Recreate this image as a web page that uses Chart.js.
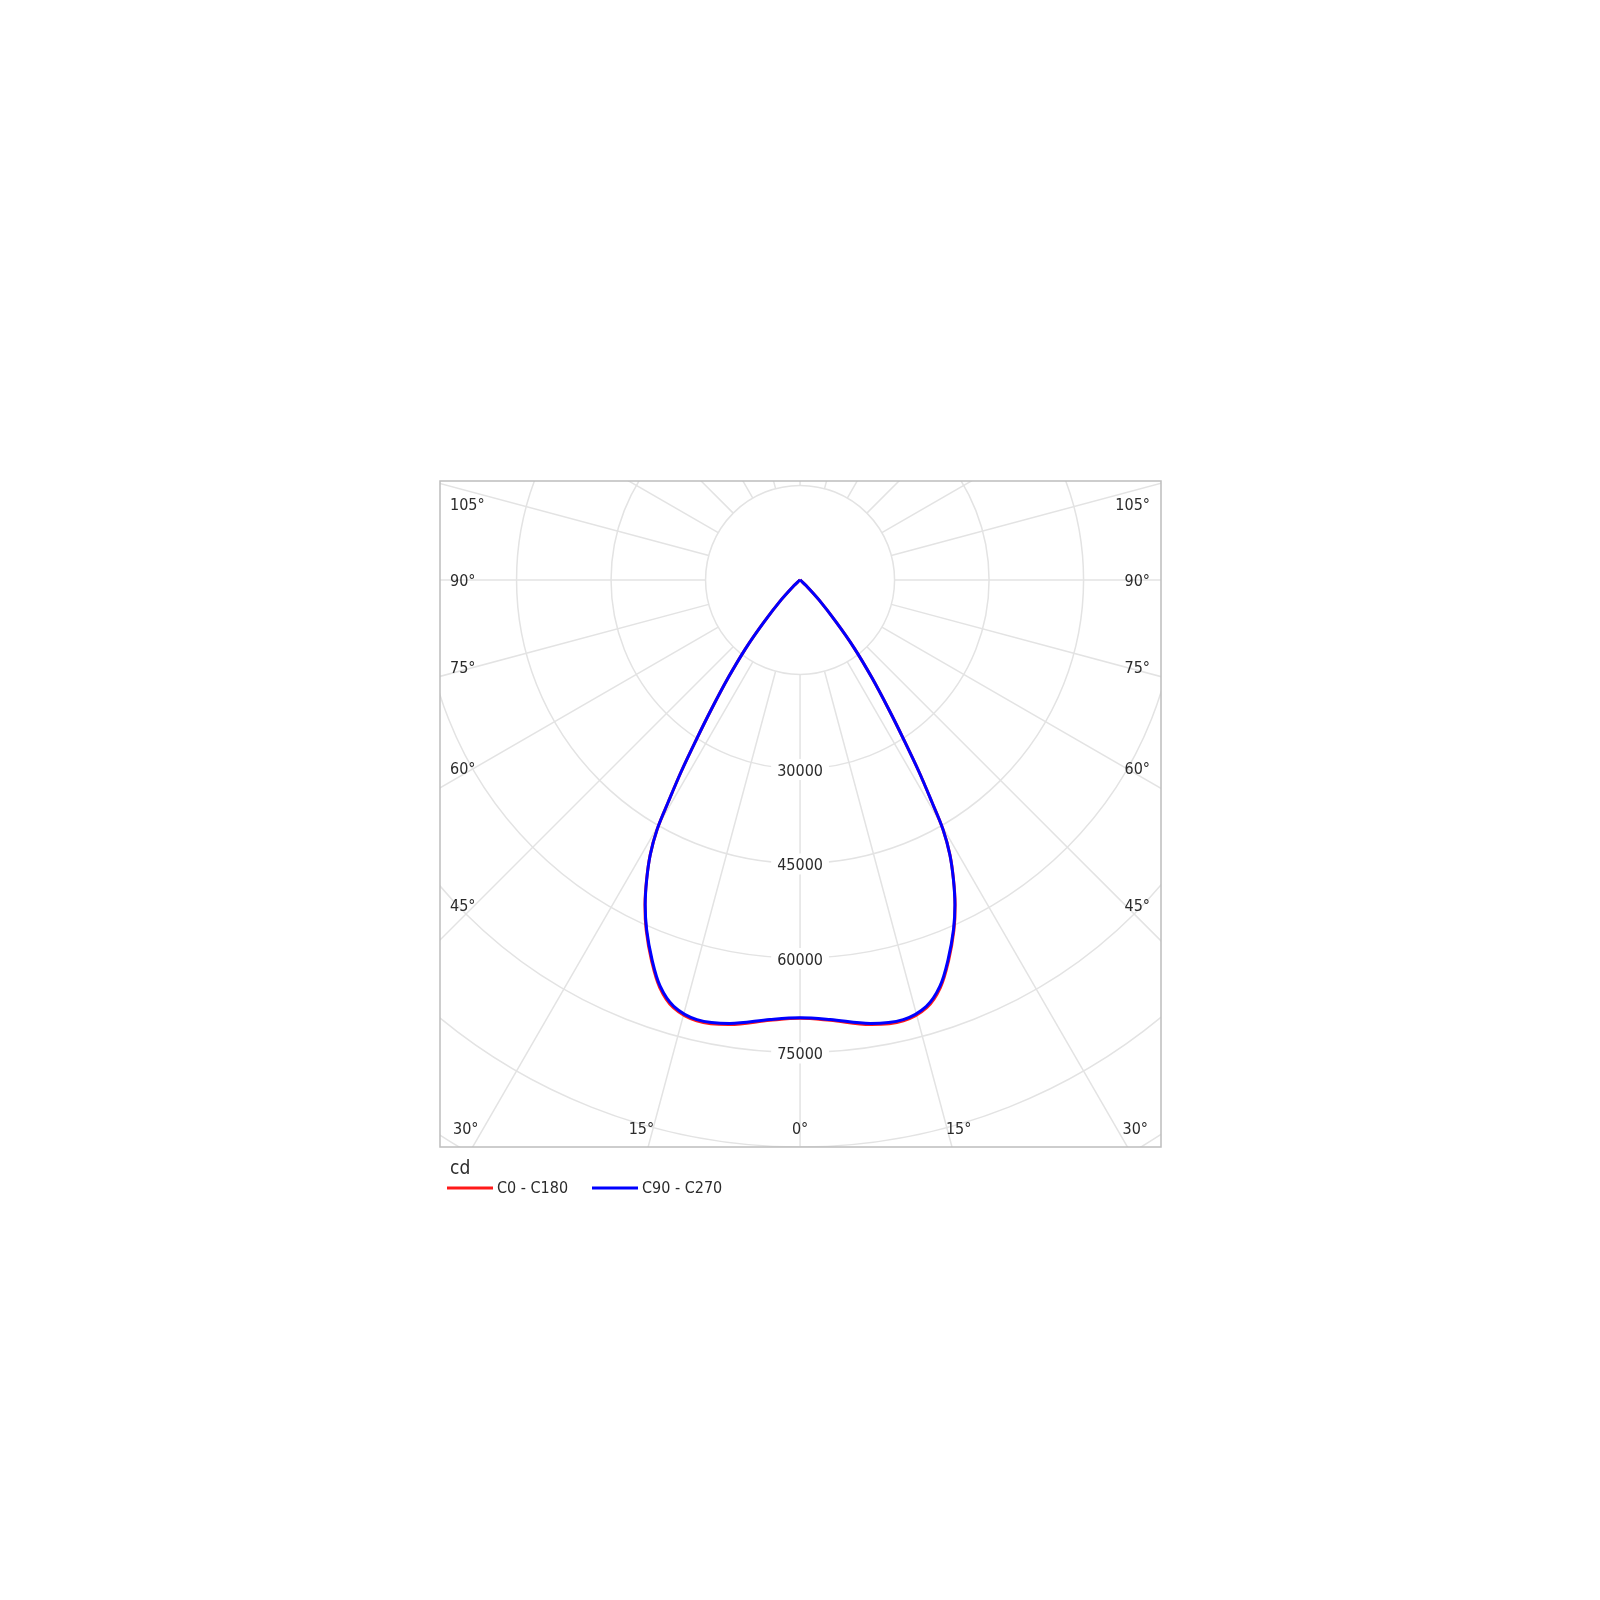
<!DOCTYPE html>
<html>
<head>
<meta charset="utf-8">
<script src="https://cdn.jsdelivr.net/npm/chart.js@4.4.1/dist/chart.umd.min.js"></script>
<style>
  html, body { margin: 0; padding: 0; background: #fff; }
  canvas { display: block; }
</style>
</head>
<body>
<canvas id="polarChart" width="1600" height="1600"></canvas>
<script>
// gamma angle (deg from nadir) and luminous intensity in cd, same for both half planes
var gammaAngles = [0, 3.9, 9.0, 13.2, 16.5, 19.0, 21.3, 23.7, 25.5, 27.1, 28.6, 29.8, 30.7, 31.8, 33.0, 34.4, 36.3, 38.5, 40.6, 43.5, 47, 50, 60, 70, 80, 90];
var c0c180 =      [69550, 70050, 71450, 71870, 70800, 68420, 64880, 60750, 57170, 53480, 49690, 45680, 40950, 35820, 30260, 24980, 19280, 13770, 8770, 4370, 1300, 200, 0, 0, 0, 0];
var c90c270 =     [69500, 69930, 71270, 71670, 70580, 68200, 64680, 60600, 57090, 53440, 49670, 45670, 40950, 35820, 30260, 24980, 19280, 13770, 8770, 4370, 1300, 200, 0, 0, 0, 0];

var seriesNames = ["C0 - C180", "C90 - C270"];
var seriesColors = ["#ff1a1a", "#0000ff"];

var ringValues = [15000, 30000, 45000, 60000, 75000, 90000, 105000];
var ringLabels = [30000, 45000, 60000, 75000];
var angleLabels = [105, 90, 75, 60, 45, 30, 15, 0];

var FONT = '"DejaVu Sans Condensed", "DejaVu Sans", sans-serif';
var TEXT_COLOR = "#2b2b2b";

// mirror the curve: left half then right half, 0 deg pointing down
function toPolarPoints(vals) {
    var pts = [];
    var i, g;
    for (i = gammaAngles.length - 1; i >= 0; i--) {
        g = gammaAngles[i] * Math.PI / 180;
        pts.push({x: -vals[i] * Math.sin(g), y: -vals[i] * Math.cos(g)});
    }
    for (i = 1; i < gammaAngles.length; i++) {
        g = gammaAngles[i] * Math.PI / 180;
        pts.push({x: vals[i] * Math.sin(g), y: -vals[i] * Math.cos(g)});
    }
    return pts;
}

var polarGrid = {
    id: "polarGrid",
    beforeDatasetsDraw: function (chart) {
        var ctx = chart.ctx;
        var xs = chart.scales.x, ys = chart.scales.y, area = chart.chartArea;
        var cx = xs.getPixelForValue(0), cy = ys.getPixelForValue(0);
        var rad = function (v) { return xs.getPixelForValue(v) - cx; };

        ctx.save();
        ctx.beginPath();
        ctx.rect(area.left, area.top, area.right - area.left, area.bottom - area.top);
        ctx.clip();
        ctx.strokeStyle = "#e3e3e3";
        ctx.lineWidth = 1.5;

        ringValues.forEach(function (v) {
            ctx.beginPath();
            ctx.arc(cx, cy, rad(v), 0, Math.PI * 2);
            ctx.stroke();
        });

        var r0 = rad(ringValues[0]), r1 = rad(200000);
        for (var a = 0; a < 360; a += 15) {
            var t = a * Math.PI / 180;
            ctx.beginPath();
            ctx.moveTo(cx + r0 * Math.sin(t), cy + r0 * Math.cos(t));
            ctx.lineTo(cx + r1 * Math.sin(t), cy + r1 * Math.cos(t));
            ctx.stroke();
        }

        // intensity labels on the 0 deg axis
        ctx.font = "16px " + FONT;
        ctx.textAlign = "center";
        ctx.textBaseline = "middle";
        ringLabels.forEach(function (v) {
            var y = ys.getPixelForValue(-v);
            var w = ctx.measureText(String(v)).width;
            ctx.fillStyle = "#ffffff";
            ctx.fillRect(cx - w / 2 - 6, y - 10, w + 12, 21);
            ctx.fillStyle = TEXT_COLOR;
            ctx.fillText(String(v), cx, y + 2.5);
        });

        // angle labels along the frame
        var sideInset = cx - (area.left + 35);
        var bottomY = area.bottom - 17;
        var bottomReach = (area.bottom - cy) + 25;
        angleLabels.forEach(function (a) {
            var t = a * Math.PI / 180;
            var txt = a + "\u00b0";
            var w = ctx.measureText(txt).width;
            var y = cy + sideInset / Math.tan(t);
            ctx.fillStyle = TEXT_COLOR;
            if (a !== 0 && y <= bottomY) {
                y = Math.max(y, area.top + 23) + 2;
                ctx.textAlign = "left";
                ctx.fillText(txt, area.left + 10, y);
                ctx.textAlign = "right";
                ctx.fillText(txt, area.right - 11, y);
            } else {
                var dx = bottomReach * Math.tan(t);
                ctx.textAlign = "center";
                var xl = Math.max(cx - dx, area.left + 13 + w / 2);
                var xr = Math.min(cx + dx, area.right - 13 - w / 2);
                ctx.fillText(txt, xl, bottomY);
                if (a !== 0) ctx.fillText(txt, xr, bottomY);
            }
        });
        ctx.restore();

        ctx.save();
        ctx.strokeStyle = "#bdbdbd";
        ctx.lineWidth = 1.5;
        ctx.strokeRect(area.left, area.top, area.right - area.left, area.bottom - area.top);
        ctx.restore();
    }
};

var unitLegend = {
    id: "unitLegend",
    afterDraw: function (chart) {
        var ctx = chart.ctx, area = chart.chartArea;
        ctx.save();
        ctx.fillStyle = TEXT_COLOR;
        ctx.font = "19px " + FONT;
        ctx.textAlign = "left";
        ctx.textBaseline = "alphabetic";
        ctx.fillText("cd", area.left + 10, area.bottom + 27);

        var ly = area.bottom + 41;
        var x0 = area.left + 7;
        ctx.font = "16px " + FONT;
        ctx.textBaseline = "middle";
        for (var i = 0; i < seriesNames.length; i++) {
            ctx.strokeStyle = seriesColors[i];
            ctx.lineWidth = 3;
            ctx.beginPath();
            ctx.moveTo(x0, ly);
            ctx.lineTo(x0 + 46, ly);
            ctx.stroke();
            ctx.fillStyle = TEXT_COLOR;
            ctx.fillText(seriesNames[i], x0 + 50, ly + 1);
            x0 += 145;
        }
        ctx.restore();
    }
};

var ctx = document.getElementById("polarChart").getContext("2d");
var polarChart = new Chart(ctx, {
    type: "scatter",
    data: {
        datasets: [
            {
                label: seriesNames[0],
                data: toPolarPoints(c0c180),
                borderColor: seriesColors[0],
                backgroundColor: seriesColors[0],
                borderWidth: 3,
                borderJoinStyle: "round",
                showLine: true,
                pointRadius: 0,
                tension: 0.35,
                order: 1
            },
            {
                label: seriesNames[1],
                data: toPolarPoints(c90c270),
                borderColor: seriesColors[1],
                backgroundColor: seriesColors[1],
                borderWidth: 3,
                borderJoinStyle: "round",
                showLine: true,
                pointRadius: 0,
                tension: 0.35,
                order: 0
            }
        ]
    },
    options: {
        responsive: false,
        animation: false,
        layout: {padding: {left: 440, top: 481, right: 439, bottom: 453}},
        scales: {
            x: {type: "linear", display: false, min: -57150, max: 57290},
            y: {type: "linear", display: false, min: -90000, max: 15700}
        },
        plugins: {
            legend: {display: false},
            tooltip: {enabled: false}
        }
    },
    plugins: [polarGrid, unitLegend]
});
</script>
</body>
</html>
